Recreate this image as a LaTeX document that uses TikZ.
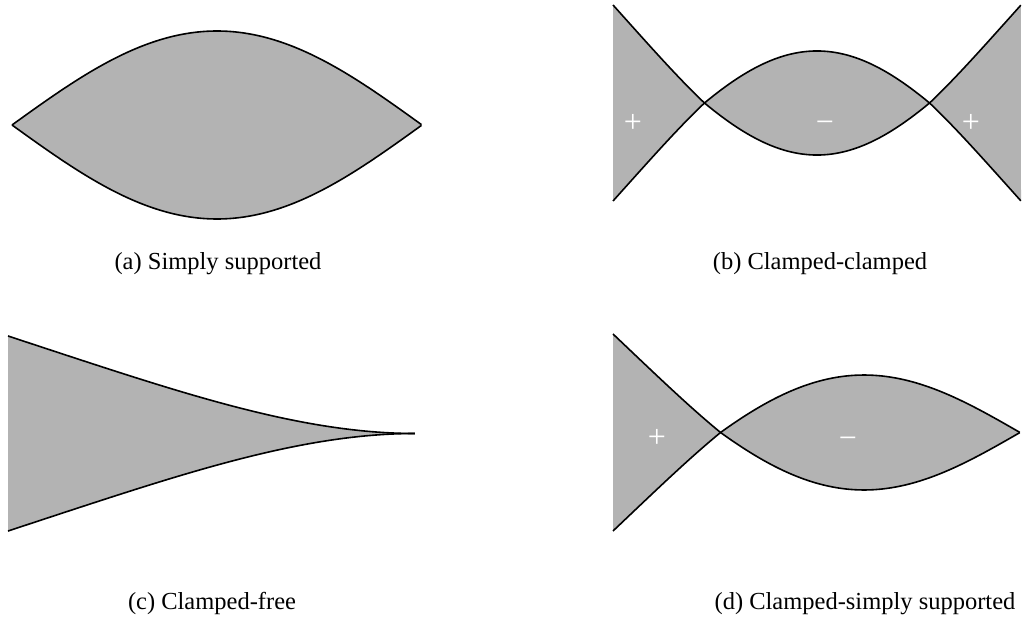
\documentclass[tikz,border=0pt]{standalone}
\usepackage{fontspec}
\setmainfont{Liberation Serif}
\usetikzlibrary{positioning}
\definecolor{modeFill}{HTML}{B3B3B3}
\definecolor{modeInk}{HTML}{000000}

\begin{document}
\begin{tikzpicture}[x=1pt, y=-1pt, font=\fontsize{24.5}{28}\selectfont,
    declare function={
      curvFF(\t)=cosh(4.7300*\t)+cos(deg(4.7300*\t))-0.982502*(sinh(4.7300*\t)+sin(deg(4.7300*\t)));
      curvCF(\t)=cosh(1.8751*\t)+cos(deg(1.8751*\t))-0.734096*(sinh(1.8751*\t)+sin(deg(1.8751*\t)));
      curvCS(\t)=cosh(3.9266*\t)+cos(deg(3.9266*\t))-1.000777*(sinh(3.9266*\t)+sin(deg(3.9266*\t)));
    },
    lobe/.style={fill=modeFill, draw=none},
    edge/.style={draw=modeInk, line width=1.6pt, line join=round},
    caption/.style={inner sep=0pt, anchor=base},
    sign/.style={text=white, inner sep=0pt, anchor=base, font=\fontsize{32}{34}\selectfont}]
  \useasboundingbox (0,0) rectangle (1026,623);

  % (a) simply supported
  \fill[lobe] plot[domain=0:1, samples=120] ({12+410*\x},{125-94*sin(180*\x)})
    -- plot[domain=1:0, samples=120] ({12+410*\x},{125+94*sin(180*\x)}) -- cycle;
  \draw[edge] plot[domain=0:1, samples=120] ({12+410*\x},{125-94*sin(180*\x)});
  \draw[edge] plot[domain=0:1, samples=120] ({12+410*\x},{125+94*sin(180*\x)});
  \node[caption] (capA) at (218,269) {(a) Simply supported};

  % (b) clamped-clamped
  \fill[lobe] plot[domain=0:1, samples=160] ({613+408*\x},{103-(curvFF(\x)>0 ? 49 : 42.8)*curvFF(\x)})
    -- plot[domain=1:0, samples=160] ({613+408*\x},{103+(curvFF(\x)>0 ? 49 : 42.8)*curvFF(\x)}) -- cycle;
  \draw[edge] plot[domain=0:1, samples=160] ({613+408*\x},{103-(curvFF(\x)>0 ? 49 : 42.8)*curvFF(\x)});
  \draw[edge] plot[domain=0:1, samples=160] ({613+408*\x},{103+(curvFF(\x)>0 ? 49 : 42.8)*curvFF(\x)});
  \node[sign] (plusBL) at (633,133) {+};
  \node[sign] (minusB) at (825,133) {−};
  \node[sign] (plusBR) at (971,133) {+};
  \node[caption] (capB) at (820,269) {(b) Clamped-clamped};

  % (c) clamped-free
  \fill[lobe] plot[domain=0:1, samples=160] ({8+407*\x},{433.5-48.75*curvCF(\x)})
    -- plot[domain=1:0, samples=160] ({8+407*\x},{433.5+48.75*curvCF(\x)}) -- cycle;
  \draw[edge] plot[domain=0:1, samples=160] ({8+407*\x},{433.5-48.75*curvCF(\x)});
  \draw[edge] plot[domain=0:1, samples=160] ({8+407*\x},{433.5+48.75*curvCF(\x)});
  \node[caption] (capC) at (212,609) {(c) Clamped-free};

  % (d) clamped-simply supported
  \fill[lobe] plot[domain=0:1, samples=160] ({613+407*\x},{432.5-(curvCS(\x)>0 ? 49.25 : 43.3)*curvCS(\x)})
    -- plot[domain=1:0, samples=160] ({613+407*\x},{432.5+(curvCS(\x)>0 ? 49.25 : 43.3)*curvCS(\x)}) -- cycle;
  \draw[edge] plot[domain=0:1, samples=160] ({613+407*\x},{432.5-(curvCS(\x)>0 ? 49.25 : 43.3)*curvCS(\x)});
  \draw[edge] plot[domain=0:1, samples=160] ({613+407*\x},{432.5+(curvCS(\x)>0 ? 49.25 : 43.3)*curvCS(\x)});
  \node[sign] (plusD) at (657,447) {+};
  \node[sign] (minusD) at (848,448) {−};
  \node[caption] (capD) at (865,609) {(d) Clamped-simply supported};
\end{tikzpicture}
\end{document}
